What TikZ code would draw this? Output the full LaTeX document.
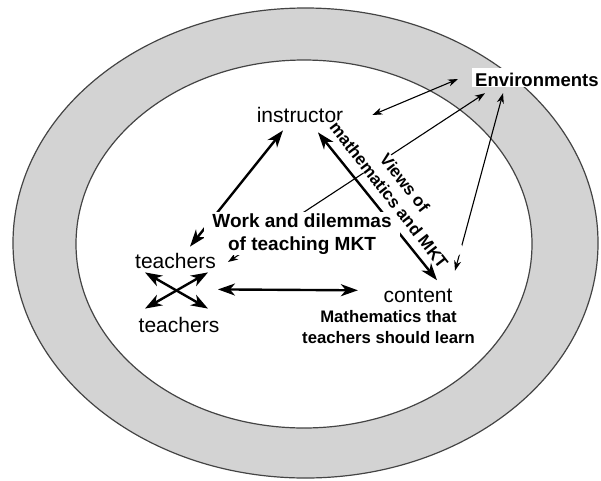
\documentclass[tikz,border=0pt]{standalone}
\usepackage{fontspec}
\setmainfont{Liberation Sans}
\usetikzlibrary{arrows.meta}
\definecolor{ringgray}{RGB}{211,211,211}
\definecolor{rimline}{RGB}{68,68,68}
\tikzset{
  ring/.style={draw=rimline,line width=1.2pt},
  role/.style={inner sep=0pt,anchor=base,font=\fontsize{21}{25}\selectfont},
  theme/.style={fill=white,align=center,inner xsep=8pt,inner ysep=1pt,
    font=\bfseries\fontsize{19}{23}\selectfont},
  envbox/.style={fill=white,anchor=base west,inner xsep=3pt,inner ysep=1pt,
    text height=17pt,text depth=0pt,font=\bfseries\fontsize{18.5}{22}\selectfont},
  bold link/.style={{Stealth[length=17pt,width=12pt,inset=5pt]}-{Stealth[length=17pt,width=12pt,inset=5pt]},
    line width=2.4pt},
  thin link/.style={{Stealth[length=10pt,width=7pt,inset=3pt]}-{Stealth[length=10pt,width=7pt,inset=3pt]},
    line width=1.1pt}
}
\begin{document}
\begin{tikzpicture}[x=1pt,y=-1pt]
  \useasboundingbox (0,0) rectangle (601,480);
  % two rings
  \draw[ring,fill=ringgray] (305.5,243) ellipse [x radius=292.5pt,y radius=235pt];
  \draw[ring,fill=white] (304,244) ellipse [x radius=228pt,y radius=184pt];
  % corners of the triangle
  \node[role] (instr) at (300,122) {instructor};
  \node[role] (tchA) at (175.5,268) {teachers};
  \node[role] (tchB) at (179,332) {teachers};
  \node[role] (cont) at (418,302) {content};
  \node[envbox] (env) at (472,86) {Environments};
  % links
  \draw[bold link] ([shift={(-17,8)}]instr.south) -- ([shift={(14.5,-6)}]tchA.north);
  \draw[bold link] ([shift={(18,10)}]instr.south) -- ([shift={(19,-8)}]cont.north);
  \draw[bold link] ([shift={(2,21)}]tchA.south east) -- ([shift={(-25.5,-5)}]cont.west);
  \draw[bold link] ([shift={(-30.5,4)}]tchA.south) -- ([shift={(29,-8)}]tchB.north);
  \draw[bold link] ([shift={(32.5,4)}]tchA.south) -- ([shift={(-34,-8)}]tchB.north);
  \draw[thin link] ([shift={(29,0.5)}]instr.east) -- ([shift={(-14,1.5)}]env.west);
  \draw[thin link] ([shift={(13,6)}]env.south west) -- ([shift={(12,1.5)}]tchA.east);
  \draw[thin link] ([shift={(31,6)}]env.south west) -- ([shift={(37,-17.5)}]cont.north);
  % themes
  \node[theme,anchor=base] (work) at (302,250) {Work and dilemmas\\of teaching MKT};
  \node[theme,inner sep=0pt,rotate=-52,font=\bfseries\fontsize{17}{20}\selectfont] (views) at (397,189)
    {Views of\\mathematics and MKT};
  \node[role,align=center,font=\bfseries\fontsize{16.7}{21}\selectfont] (learn) at (388.5,343)
    {Mathematics that\\teachers should learn};
\end{tikzpicture}
\end{document}
